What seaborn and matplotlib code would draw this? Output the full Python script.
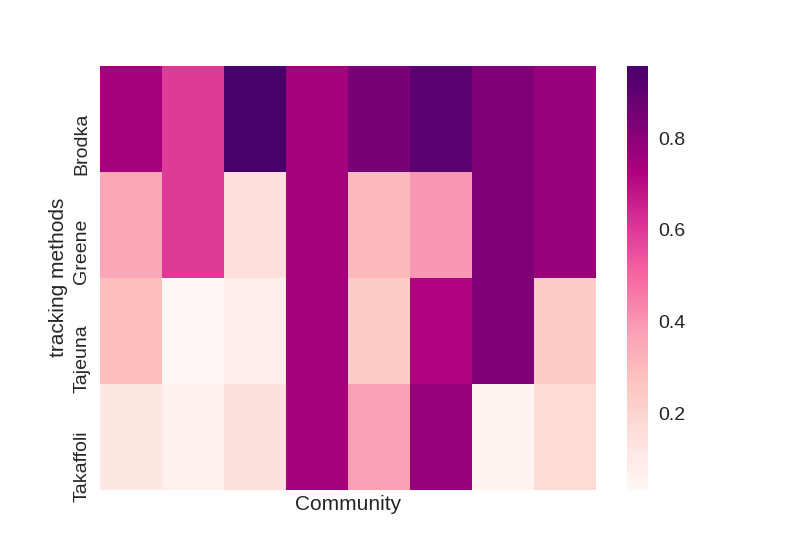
import numpy as np
import pandas as pd
import matplotlib
matplotlib.use("Agg")
import matplotlib.pyplot as plt
import matplotlib.transforms as mtransforms
import seaborn as sns

# values
methods = ["Brodka", "Greene", "Tajeuna", "Takaffoli"]
communities = ["C1", "C2", "C3", "C4", "C5", "C6", "C7", "C8"]
brodka = [0.745, 0.597, 0.957, 0.745, 0.842, 0.911, 0.828, 0.773]
greene = [0.353, 0.597, 0.152, 0.745, 0.305, 0.397, 0.828, 0.773]
tajeuna = [0.287, 0.035, 0.085, 0.745, 0.240, 0.722, 0.828, 0.240]
takaffoli = [0.120, 0.070, 0.146, 0.745, 0.379, 0.780, 0.050, 0.170]

df = pd.DataFrame([brodka, greene, tajeuna, takaffoli], index=methods, columns=communities)

sns.set_style("white")
plt.rcParams["font.family"] = ["Liberation Sans", "DejaVu Sans"]
plt.rcParams["text.color"] = "#262626"
plt.rcParams["axes.labelcolor"] = "#262626"
plt.rcParams["xtick.color"] = "#262626"
plt.rcParams["ytick.color"] = "#262626"
plt.rcParams["xtick.major.pad"] = 7
plt.rcParams["ytick.major.pad"] = 7

fig = plt.figure(figsize=(8, 5.5), dpi=100)
ax = fig.add_subplot(1, 1, 1)
sns.heatmap(df, cmap="RdPu", ax=ax, xticklabels=False, yticklabels=True)

ax.set_xlabel("Community", size=15)
ax.set_ylabel("tracking methods", size=15)
ax.tick_params(axis="both", length=0)
shift = mtransforms.ScaledTranslation(0, 6 / 100, fig.dpi_scale_trans)
for t in ax.get_yticklabels():
    t.set_rotation(90)
    t.set_verticalalignment("top")
    t.set_fontsize(14)
    t.set_transform(t.get_transform() + shift)

cbar = ax.collections[0].colorbar
cbar.ax.tick_params(labelsize=14, length=0)
cbar.outline.set_visible(False)

fig.savefig("out.png", dpi=100)
